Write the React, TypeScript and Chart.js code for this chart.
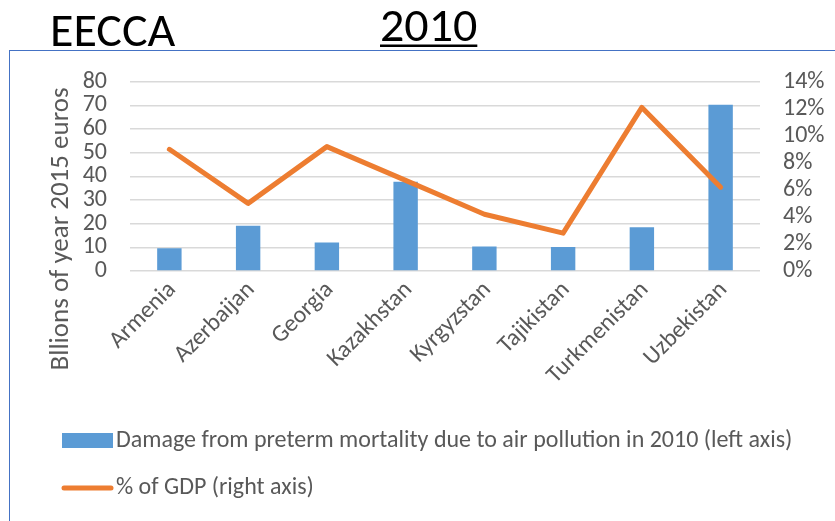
import React, { useEffect, useRef } from "react";
import { Chart, registerables } from "chart.js";

Chart.register(...registerables);

// Chart content
const countries = [
  "Armenia",
  "Azerbaijan",
  "Georgia",
  "Kazakhstan",
  "Kyrgyzstan",
  "Tajikistan",
  "Turkmenistan",
  "Uzbekistan",
];
const damageBillions = [9.6, 19.1, 12.0, 37.7, 10.4, 10.1, 18.5, 70.3];
const gdpPercent = [9.0, 5.0, 9.2, 6.7, 4.2, 2.8, 12.1, 6.2];

const leftAxisMax = 80;
const leftAxisStep = 10;
const rightAxisMax = 14;
const rightAxisStep = 2;

const regionTitle = "EECCA";
const yearTitle = "2010";
const leftAxisTitle = "Bllions of year 2015 euros";
const barLabel = "Damage from preterm mortality due to air pollution in 2010 (left axis)";
const lineLabel = "% of GDP (right axis)";

const FONT = "Carlito, Lato, sans-serif";
const TEXT_GREY = "#595959";
const BAR_BLUE = "#5B9BD5";
const LINE_ORANGE = "#ED7D31";
const GRID_GREY = "#D9D9D9";
const TICK_SIZE = 24;

// Draws the headings, rotated left-axis title and the legend on the canvas
const decorations = {
  id: "decorations",
  afterDraw(chart: any) {
    const ctx = chart.ctx as CanvasRenderingContext2D;
    ctx.save();

    // Headings
    ctx.fillStyle = "#000000";
    ctx.textBaseline = "alphabetic";
    ctx.textAlign = "left";
    ctx.font = `48px ${FONT}`;
    ctx.fillText(regionTitle, 50, 46);
    ctx.font = `48px ${FONT}`;
    ctx.fillText(yearTitle, 380, 41);
    const yw = ctx.measureText(yearTitle).width;
    ctx.fillRect(380, 44.5, yw, 2.5);

    // Left axis title
    ctx.save();
    ctx.translate(61, 229);
    ctx.rotate(-Math.PI / 2);
    ctx.font = `27px ${FONT}`;
    ctx.fillStyle = TEXT_GREY;
    ctx.textAlign = "center";
    ctx.textBaseline = "middle";
    ctx.fillText(leftAxisTitle, 0, 0);
    ctx.restore();

    // Legend
    const ds = chart.data.datasets;
    const barDs = ds.find((d: any) => d.type === "bar");
    const lineDs = ds.find((d: any) => d.type === "line");
    ctx.font = `24px ${FONT}`;
    ctx.textBaseline = "middle";
    ctx.textAlign = "left";

    ctx.fillStyle = barDs.backgroundColor;
    ctx.fillRect(62, 433, 51, 15);
    ctx.fillStyle = TEXT_GREY;
    ctx.fillText(barDs.label, 116, 441);

    ctx.strokeStyle = lineDs.borderColor;
    ctx.lineWidth = 5;
    ctx.lineCap = "round";
    ctx.beginPath();
    ctx.moveTo(64, 488);
    ctx.lineTo(111, 488);
    ctx.stroke();
    ctx.fillStyle = TEXT_GREY;
    ctx.fillText(lineDs.label, 116, 488);

    ctx.restore();
  },
};

export default function App() {
  const canvasRef = useRef<HTMLCanvasElement | null>(null);

  useEffect(() => {
    if (!canvasRef.current) return;
    const chart = new Chart(canvasRef.current, {
      type: "bar",
      data: {
        labels: countries,
        datasets: [
          {
            type: "line",
            label: lineLabel,
            data: gdpPercent,
            yAxisID: "y1",
            borderColor: LINE_ORANGE,
            backgroundColor: LINE_ORANGE,
            borderWidth: 5,
            pointRadius: 0,
            tension: 0,
            borderCapStyle: "round",
            borderJoinStyle: "round",
            order: 0,
          } as any,
          {
            type: "bar",
            label: barLabel,
            data: damageBillions,
            yAxisID: "y",
            backgroundColor: BAR_BLUE,
            categoryPercentage: 1,
            barPercentage: 0.31,
            order: 1,
          } as any,
        ],
      },
      options: {
        animation: false,
        responsive: false,
        maintainAspectRatio: false,
        layout: { padding: { top: 81.7, left: 0, right: 0, bottom: 0 } },
        plugins: {
          legend: { display: false },
          title: { display: false },
          tooltip: { enabled: false },
        },
        scales: {
          x: {
            grid: { display: false },
            border: { display: false },
            ticks: {
              autoSkip: false,
              minRotation: 45,
              maxRotation: 45,
              padding: -3,
              labelOffset: 3,
              color: TEXT_GREY,
              font: { family: FONT, size: TICK_SIZE },
            },
            afterFit(scale: any) {
              scale.height = 250;
            },
          },
          y: {
            position: "left",
            min: 0,
            max: leftAxisMax,
            grid: { color: GRID_GREY, lineWidth: 1.5, drawTicks: false },
            border: { display: false },
            ticks: {
              autoSkip: false,
              stepSize: leftAxisStep,
              padding: 23,
              color: TEXT_GREY,
              font: { family: FONT, size: TICK_SIZE },
            },
            afterFit(scale: any) {
              scale.width = 130;
            },
          },
          y1: {
            position: "right",
            min: 0,
            max: rightAxisMax,
            grid: { display: false, drawTicks: false },
            border: { display: false },
            ticks: {
              autoSkip: false,
              stepSize: rightAxisStep,
              padding: 23,
              color: TEXT_GREY,
              font: { family: FONT, size: TICK_SIZE },
              callback: (v: any) => `${v}%`,
            },
            afterFit(scale: any) {
              scale.width = 75;
            },
          },
        },
      },
      plugins: [decorations],
    });
    return () => chart.destroy();
  }, []);

  return (
    <div
      style={{
        position: "fixed",
        left: 0,
        top: 0,
        width: 835,
        height: 521,
        background: "#ffffff",
        overflow: "hidden",
      }}
    >
      <div
        style={{
          position: "absolute",
          left: 9,
          top: 50,
          width: 900,
          height: 600,
          borderTop: "1.5px solid #4472C4",
          borderLeft: "1.5px solid #4472C4",
        }}
      />
      <canvas
        ref={canvasRef}
        width={835}
        height={521}
        style={{ position: "absolute", left: 0, top: 0, width: 835, height: 521 }}
      />
    </div>
  );
}
